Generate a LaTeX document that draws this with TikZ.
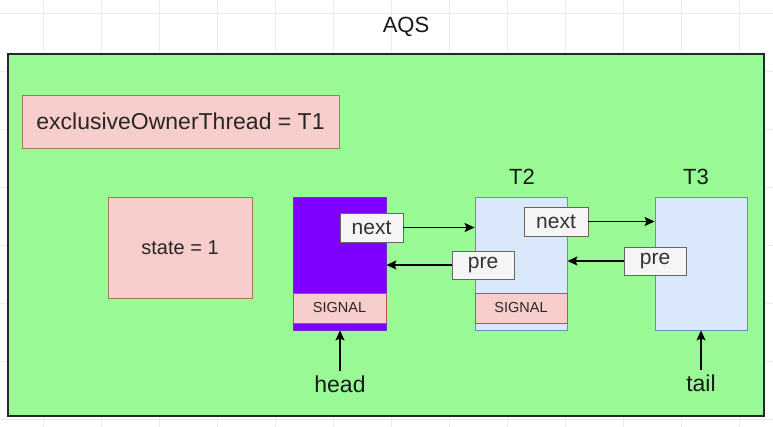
\documentclass[tikz,border=0pt]{standalone}
\usepackage{fontspec}
\setmainfont{Liberation Sans}
\usetikzlibrary{arrows.meta}
\definecolor{gridc}{HTML}{EBEBEB}
\definecolor{aqsgreen}{HTML}{99F994}
\definecolor{redfill}{HTML}{F8CECC}
\definecolor{redline}{HTML}{B85450}
\definecolor{brownline}{HTML}{A07C55}
\definecolor{bluefill}{HTML}{DAE8FC}
\definecolor{blueline}{HTML}{6C8EBF}
\definecolor{purplefill}{HTML}{8000FF}
\definecolor{purpleline}{HTML}{6A2FC0}
\definecolor{tagfill}{HTML}{F5F5F5}
\definecolor{tagline}{HTML}{666666}
\newcommand{\fs}[1]{\fontsize{#1}{#1}\selectfont}
\tikzset{
  box/.style={draw, rectangle, inner sep=0pt, line width=0.9pt},
  redbox/.style={box, fill=redfill, draw=redline, text=black!85},
  bluebox/.style={box, fill=bluefill, draw=blueline},
  tag/.style={box, fill=tagfill, draw=tagline, text=black!80, font=\fs{21}},
  link/.style={line width=1.3pt, -{Stealth[length=10pt,width=9pt,inset=2pt]}},
  lbl/.style={inner sep=0pt, text=black!90, font=\fs{22}},
}
\begin{document}
\begin{tikzpicture}[x=1pt,y=-1pt]
\useasboundingbox (0,0) rectangle (773,427);
\fill[white] (0,0) rectangle (773,427);
% faint background grid
\foreach \gx in {43,101,...,770} \draw[gridc, line width=0.6pt] (\gx,0) -- (\gx,427);
\foreach \gy in {13,71,...,427} \draw[gridc, line width=0.6pt] (0,\gy) -- (773,\gy);

% outer AQS container
\node[box, fill=aqsgreen, draw=black!85, line width=1.1pt, minimum width=756pt, minimum height=362pt] (aqs) at (386,235) {};
\node[lbl] (aqstitle) at (406,27) {AQS};

\node[redbox, draw=brownline, minimum width=317pt, minimum height=53pt, font=\fs{23}] (owner) at (180.5,121.5) {exclusiveOwnerThread = T1};
\node[redbox, draw=brownline, minimum width=144pt, minimum height=101pt, font=\fs{20}] (state) at (180,247.5) {state = 1};

% head node (T1)
\node[box, fill=purplefill, draw=purpleline, minimum width=93pt, minimum height=133pt] (n1) at (339.5,263.5) {};
\node[redbox, minimum width=93pt, minimum height=30pt, font=\fs{14.5}] (sig1) at (339.5,308) {SIGNAL};

% T2 node
\node[bluebox, minimum width=92pt, minimum height=133pt] (n2) at (521,263.5) {};
\node[redbox, minimum width=92pt, minimum height=30pt, font=\fs{14.5}] (sig2) at (521,308) {SIGNAL};
\node[lbl] (t2) at (522,177) {T2};

% T3 node
\node[bluebox, minimum width=92pt, minimum height=133pt] (n3) at (701,263.5) {};
\node[lbl] (t3) at (696,177) {T3};

% pointer tags
\node[tag, minimum width=63pt, minimum height=29pt] (next1) at (371.5,227.5) {next};
\node[tag, minimum width=62pt, minimum height=28pt] (pre1) at (483,265) {pre};
\node[tag, minimum width=64pt, minimum height=29pt] (next2) at (556,221.5) {next};
\node[tag, minimum width=62pt, minimum height=28pt] (pre2) at (655,261) {pre};

\draw[link] (next1.east) -- (next1.east -| n2.west);
\draw[link] (pre1.west) -- (pre1.west -| n1.east);
\draw[link] (next2.east) -- (next2.east -| n3.west);
\draw[link] (pre2.west) -- (pre2.west -| n2.east);

% head / tail markers
\node[lbl, font=\fs{23}] (head) at (340,384) {head};
\node[lbl, font=\fs{23}] (tail) at (701,383) {tail};
\draw[link] (head.north) ++(0,-4) coordinate (hstart) -- (hstart |- n1.south);
\draw[link] (tail.north) ++(0,-4) coordinate (tstart) -- (tstart |- n3.south);
\end{tikzpicture}
\end{document}
